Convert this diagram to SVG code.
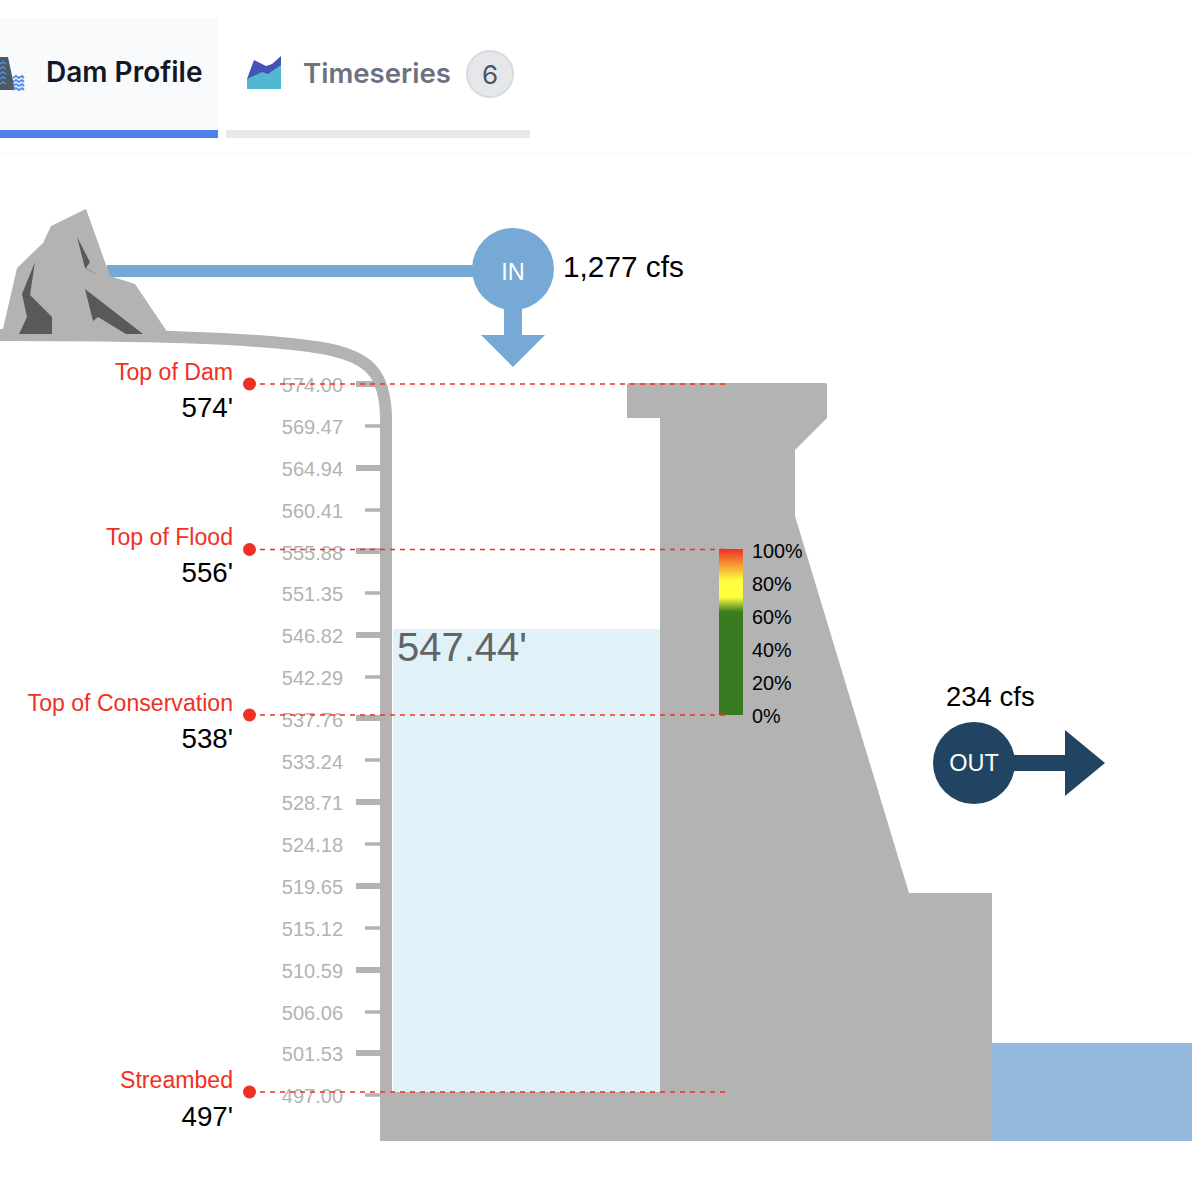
<svg xmlns="http://www.w3.org/2000/svg" width="1192" height="1192" viewBox="0 0 1192 1192">
<style>
.s{font-family:"Liberation Sans",Arial,sans-serif}
.i{font-family:Inter,"Liberation Sans",sans-serif}
.t{font-family:"Liberation Sans",Arial,sans-serif;font-size:20px;fill:#b3b3b3;text-anchor:end}
.r{font-family:"Liberation Sans",Arial,sans-serif;font-size:23.100px;fill:#ee3124;text-anchor:end}
.v{font-family:"Liberation Sans",Arial,sans-serif;font-size:27.700px;fill:#000;text-anchor:end}
.p{font-family:"Liberation Sans",Arial,sans-serif;font-size:19.800px;fill:#000}
.d{stroke:#ee3124;stroke-width:1.500;stroke-dasharray:5 5;fill:none}
.g{fill:#b3b3b3}
.k{stroke:#b3b3b3;fill:none}
.m{fill:#58595b}
</style>
<defs>
<linearGradient id="grad" x1="0" y1="0" x2="0" y2="1">
<stop offset="0" stop-color="#ee3124"/>
<stop offset=".19" stop-color="#ffff40"/>
<stop offset=".29" stop-color="#ffff40"/>
<stop offset=".38" stop-color="#397b20"/>
<stop offset="1" stop-color="#397b20"/>
</linearGradient>
</defs>
<rect width="1192" height="1192" fill="#fff"/>
<g id="tabs">
<rect x="0" y="18" width="218" height="112" fill="#f9fafb"/>
<rect x="0" y="130" width="218" height="8" fill="#4f81ee"/>
<rect x="226" y="130" width="304" height="8" fill="#e5e7eb"/>
<rect x="0" y="153" width="1192" height="1" fill="#f6f6f7"/>
<path d="M0 57H8L15 90H0Z" fill="#4b5a63"/>
<path d="M0 64l3-2 3 2M0 69l3-2 3 2M0 74l3-2 3 2M0 79l3-2 3 2M0 84l3-2 3 2" stroke="#4f90ee" stroke-width="1.500" fill="none"/>
<path d="M13 78l3-2 3 2 3-2 2 2M13 82l3-2 3 2 3-2 2 2M13 86l3-2 3 2 3-2 2 2M13 90l3-2 3 2 3-2 2 2" stroke="#4f90ee" stroke-width="2" fill="none"/>
<text class="i" x="46" y="82" font-size="28" font-weight="600" fill="#111827">Dam Profile</text>
<path d="M247 79L254 60L266 66L272 64L281 56V89H247Z" fill="#4554b4"/>
<path d="M247 79L262 72L268 74L281 65V89H247Z" fill="#52b8d2"/>
<text class="i" x="303" y="83" font-size="27.600" font-weight="600" fill="#6b7280">Timeseries</text>
<circle cx="490" cy="74" r="23" fill="#e5e7eb" stroke="#d8dade" stroke-width="2"/>
<text class="i" x="490" y="84" font-size="26" fill="#4b5563" text-anchor="middle">6</text>
</g>
<g id="inflow">
<rect x="107" y="265" width="370" height="12" fill="#76a9d6"/>
<circle cx="513" cy="269" r="41" fill="#76a9d6"/>
<path d="M504 305H522V335H545L513 367L481 335H504Z" fill="#76a9d6"/>
<text class="s" x="513" y="280" font-size="23.500" fill="#fff" text-anchor="middle">IN</text>
<text class="s" x="563" y="277" font-size="29.800" fill="#000">1,277 cfs</text>
</g>
<g id="gauge">
<path class="k" d="M0 335C130 335 255 337 322 348C368 356 386 372 386 420V1095" stroke-width="12"/>
<path class="k" stroke-width="6" d="M356 384h24M356 468h24M356 551h24M356 635h24M356 718h24M356 802h24M356 886h24M356 970h24M356 1053h24"/>
<path class="k" stroke-width="3.500" d="M365 426h15M365 510h15M365 593h15M365 677h15M365 760h15M365 844h15M365 928h15M365 1012h15M365 1095h15"/>
<text class="t" x="343" y="392">574.00</text>
<text class="t" x="343" y="434">569.47</text>
<text class="t" x="343" y="476">564.94</text>
<text class="t" x="343" y="518">560.41</text>
<text class="t" x="343" y="560">555.88</text>
<text class="t" x="343" y="601">551.35</text>
<text class="t" x="343" y="643">546.82</text>
<text class="t" x="343" y="685">542.29</text>
<text class="t" x="343" y="727">537.76</text>
<text class="t" x="343" y="769">533.24</text>
<text class="t" x="343" y="810">528.71</text>
<text class="t" x="343" y="852">524.18</text>
<text class="t" x="343" y="894">519.65</text>
<text class="t" x="343" y="936">515.12</text>
<text class="t" x="343" y="978">510.59</text>
<text class="t" x="343" y="1020">506.06</text>
<text class="t" x="343" y="1061">501.53</text>
<text class="t" x="343" y="1103">497.00</text>
</g>
<g id="mountain">
<path class="g" d="M3 329L17 268L43 243L51 226L86 209L110 276L135 284L166 330V340H0V329Z"/>
<path class="m" d="M35 262L22 294L27 317L19 334H52V317L30 295Z"/>
<path class="m" d="M77 237L90 262L86 268L100 276L85 268Z"/>
<path class="m" d="M85 289L143 334H126L98 317L93 321Z"/>
</g>
<g id="reservoir">
<rect x="393" y="629" width="267" height="463" fill="#e1f1f8"/>
<text class="s" x="397" y="661" font-size="40" fill="#636466">547.44'</text>
</g>
<g id="dam">
<path class="g" d="M629 383H825Q827 383 827 385V418L795 450V516L909 893H992V1141H380V1092H660V418H627V385Q627 383 629 383Z"/>
</g>
<g id="river">
<rect x="992" y="1043" width="200" height="98" fill="#95b8dd"/>
</g>
<g id="scale">
<rect x="719" y="549" width="24" height="166" fill="url(#grad)"/>
<text class="p" x="752" y="558">100%</text>
<text class="p" x="752" y="591">80%</text>
<text class="p" x="752" y="624">60%</text>
<text class="p" x="752" y="657">40%</text>
<text class="p" x="752" y="690">20%</text>
<text class="p" x="752" y="723">0%</text>
</g>
<g id="levels">
<path class="d" d="M250 384H728M250 549.500H728M250 715H728M250 1092H728"/>
<circle cx="249.500" cy="384" r="6.500" fill="#ee3124"/>
<circle cx="249.500" cy="549.500" r="6.500" fill="#ee3124"/>
<circle cx="249.500" cy="715" r="6.500" fill="#ee3124"/>
<circle cx="249.500" cy="1092" r="6.500" fill="#ee3124"/>
<text class="r" x="233" y="380">Top of Dam</text>
<text class="v" x="233" y="417">574'</text>
<text class="r" x="233" y="545">Top of Flood</text>
<text class="v" x="233" y="582">556'</text>
<text class="r" x="233" y="711">Top of Conservation</text>
<text class="v" x="233" y="748">538'</text>
<text class="r" x="233" y="1088">Streambed</text>
<text class="v" x="233" y="1126">497'</text>
</g>
<g id="outflow">
<circle cx="974" cy="763" r="41" fill="#214463"/>
<path d="M1010 755H1065V730L1105 763L1065 796V771H1010Z" fill="#214463"/>
<text class="s" x="974" y="771" font-size="23.500" fill="#fff" text-anchor="middle">OUT</text>
<text class="s" x="946" y="706" font-size="27.500" fill="#000">234 cfs</text>
</g>
</svg>
